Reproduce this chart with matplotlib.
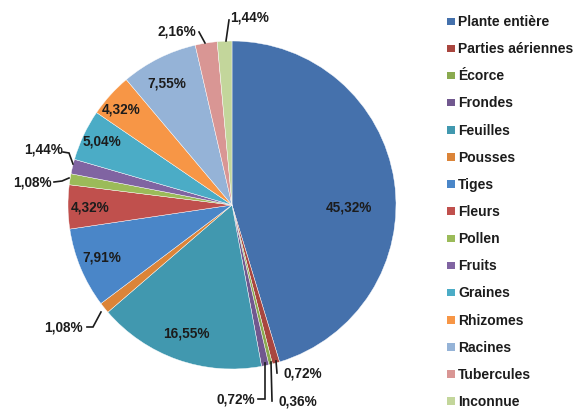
import numpy as np
import matplotlib.pyplot as plt
from matplotlib.patches import Rectangle

# Répartition des parties de plante utilisées (%)
categories = ['Plante entière', 'Parties aériennes', 'Écorce', 'Frondes', 'Feuilles',
              'Pousses', 'Tiges', 'Fleurs', 'Pollen', 'Fruits', 'Graines',
              'Rhizomes', 'Racines', 'Tubercules', 'Inconnue']
values = [45.32, 0.72, 0.36, 0.72, 16.55, 1.08, 7.91, 4.32, 1.08, 1.44, 5.04,
          4.32, 7.55, 2.16, 1.44]
colors = ['#4571AC', '#A9463F', '#8AAA4F', '#71588F', '#4198AF', '#DB8438',
          '#4A86C8', '#C0504D', '#9BBB59', '#8064A2', '#4BACC6', '#F79646',
          '#95B3D7', '#D99694', '#C3D69B']

W, H = 580, 410
cx, cy, R = 232, 206, 164

def px(x, y):
    # pixel coordinates measured from the top-left corner
    return (x, H - y)

plt.rcParams['font.family'] = ['Liberation Sans', 'DejaVu Sans']
fig = plt.figure(figsize=(5.8, 4.1), dpi=100)
ax = fig.add_axes([0, 0, 1, 1])

wedges, _ = ax.pie(values, colors=colors, startangle=90, counterclock=False,
                   center=px(cx, cy), radius=R,
                   wedgeprops=dict(linewidth=0.3, edgecolor='white'))
ax.set_xlim(0, W)
ax.set_ylim(0, H)
ax.set_aspect('equal')
ax.axis('off')

def fmt(v):
    return f'{v:.2f}'.replace('.', ',') + '%'

lab_kw = dict(fontsize=9.8, fontweight='bold', color='#1c1c1c')

# labels inside the big slices
inside = {0: (349, 208), 4: (186, 334), 6: (102, 257), 7: (90, 208),
          10: (102, 142), 11: (121, 110), 12: (167, 83)}
for i, (x, y) in inside.items():
    ax.text(*px(x, y), fmt(values[i]), ha='center', va='center', **lab_kw)

# small slices: label position, alignment and leader line bends
outside = {
    1: ((283, 374), 'left', [(277, 374), (276, 362)]),
    2: ((278, 402), 'left', [(272, 402), (271, 363)]),
    3: ((255, 400), 'right', [(258, 400), (265, 400), (265, 364)]),
    5: ((83, 328), 'right', [(87, 328), (93, 328), (101, 313)]),
    8: ((52, 183), 'right', [(54, 183), (62, 182), (69, 179)]),
    9: ((63, 150), 'right', [(63, 153), (69, 154), (73, 165)]),
    13: ((196, 31), 'right', [(199, 33), (205, 44)]),
    14: ((230, 17), 'left', [(229, 21), (226, 42)]),
}
for i, ((x, y), ha, path) in outside.items():
    ax.text(*px(x, y), fmt(values[i]), ha=ha, va='center', **lab_kw)
    xs = [p[0] for p in path]
    ys = [H - p[1] for p in path]
    ax.plot(xs, ys, color='#1c1c1c', lw=1.2, solid_joinstyle='miter')

# legend
for i, name in enumerate(categories):
    y = 22 + 27.14 * i
    ax.add_patch(Rectangle(px(447, y + 4), 7.5, 7.5, facecolor=colors[i],
                           edgecolor='none'))
    ax.text(*px(458, y), name, ha='left', va='center', fontsize=10,
            fontweight='bold', color='#1c1c1c')

fig.savefig('out.png', dpi=100)
